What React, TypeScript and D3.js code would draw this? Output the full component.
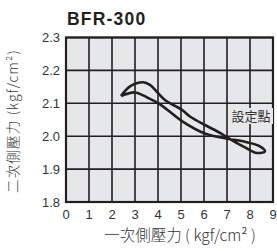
import React from 'react';
import * as d3 from 'd3';

// primary pressure (x) vs secondary pressure (y), one hysteresis loop
const xTicks = [0, 1, 2, 3, 4, 5, 6, 7, 8, 9];
const yTicks = [1.8, 1.9, 2.0, 2.1, 2.2, 2.3];

// outer branch: left tip -> peak -> crossing -> bottom of loop -> right tip
const outerX = [2.39, 2.8, 3.35, 3.65, 3.96, 4.3, 5.04, 5.39, 6.04, 6.7, 7.04, 7.78, 8.3, 8.65];
const outerY = [2.122, 2.152, 2.164, 2.156, 2.134, 2.110, 2.080, 2.060, 2.034, 2.010, 1.995, 1.966, 1.949, 1.954];

// inner branch: right tip -> top of loop -> crossing -> back to left tip
const innerX = [8.65, 8.43, 7.78, 7.04, 6.52, 6.04, 5.04, 4.09, 3.55, 3.0, 2.39];
const innerY = [1.954, 1.969, 1.983, 1.992, 1.999, 2.008, 2.046, 2.097, 2.117, 2.133, 2.122];

const title = 'BFR-300';
const xLabel = '一次側壓力 ( kgf/cm² )';
const yLabel = '二次側壓力 (kgf/cm²)';
const noteLabel = '設定點';

const width = 277;
const height = 251;
const marginLeft = 66;
const marginRight = 4;
const marginTop = 37.5;
const marginBottom = 49;

const App: React.FC = () => {
    const x = d3.scaleLinear().domain([0, 9]).range([marginLeft, width - marginRight]);
    const y = d3.scaleLinear().domain([1.8, 2.3]).range([height - marginBottom, marginTop]);

    const pts: [number, number][] = [
        ...outerX.map((v, i) => [v, outerY[i]] as [number, number]),
        ...innerX.slice(1).map((v, i) => [v, innerY[i + 1]] as [number, number]),
    ];

    const line = d3.line<[number, number]>()
        .x(d => x(d[0]))
        .y(d => y(d[1]))
        .curve(d3.curveCatmullRom.alpha(0.5));

    const ink = '#231f20';
    const font = '"Liberation Sans", Arial, sans-serif';
    const cjk = '"Noto Sans CJK TC", "Noto Sans CJK SC", sans-serif';

    return (
        <svg width={width} height={height} style={{ position: 'absolute', left: 0, top: 0 }}>
            <rect x={0} y={0} width={width} height={height} fill="#fff" />
            <text x={67} y={25} fontFamily={font} fontWeight="bold" fontSize={17.5} letterSpacing={1.2} fill={ink}>{title}</text>

            <rect x={x(0)} y={y(2.3)} width={x(9) - x(0)} height={y(1.8) - y(2.3)} fill="#e6e7e8" />

            {xTicks.map(t => (
                <line key={'gx' + t} x1={x(t)} x2={x(t)} y1={y(2.3)} y2={y(1.8)} stroke={ink} strokeWidth={1.6} />
            ))}
            {yTicks.map(t => (
                <line key={'gy' + t} x1={x(0)} x2={x(9)} y1={y(t)} y2={y(t)} stroke={ink} strokeWidth={1.6} />
            ))}
            <rect x={x(0)} y={y(2.3)} width={x(9) - x(0)} height={y(1.8) - y(2.3)} fill="none" stroke={ink} strokeWidth={2.2} />

            <rect x={229} y={108} width={44} height={16} fill="#e6e7e8" />
            <text x={251} y={121} textAnchor="middle" fontFamily={cjk} fontSize={13} fill="#333">{noteLabel}</text>

            <path d={line(pts) ?? ''} fill="none" stroke={ink} strokeWidth={2.6} strokeLinejoin="round" />

            {yTicks.map(t => (
                <text key={'ty' + t} x={60} y={y(t) + 4.5} textAnchor="end" fontFamily={font} fontSize={13} fill="#333">{t.toFixed(1)}</text>
            ))}
            {xTicks.map(t => (
                <text key={'tx' + t} x={x(t)} y={219} textAnchor="middle" fontFamily={font} fontSize={13} fill="#333">{t}</text>
            ))}

            <text x={180} y={241} textAnchor="middle" fontFamily={cjk} fontSize={15.5} fontWeight={300} fill="#333">{xLabel}</text>
            <text transform={`translate(18, 121) rotate(-90)`} textAnchor="middle" fontFamily={cjk} fontSize={13.5} fontWeight={300} letterSpacing={1.2} fill="#333">{yLabel}</text>
        </svg>
    );
};

export default App;
